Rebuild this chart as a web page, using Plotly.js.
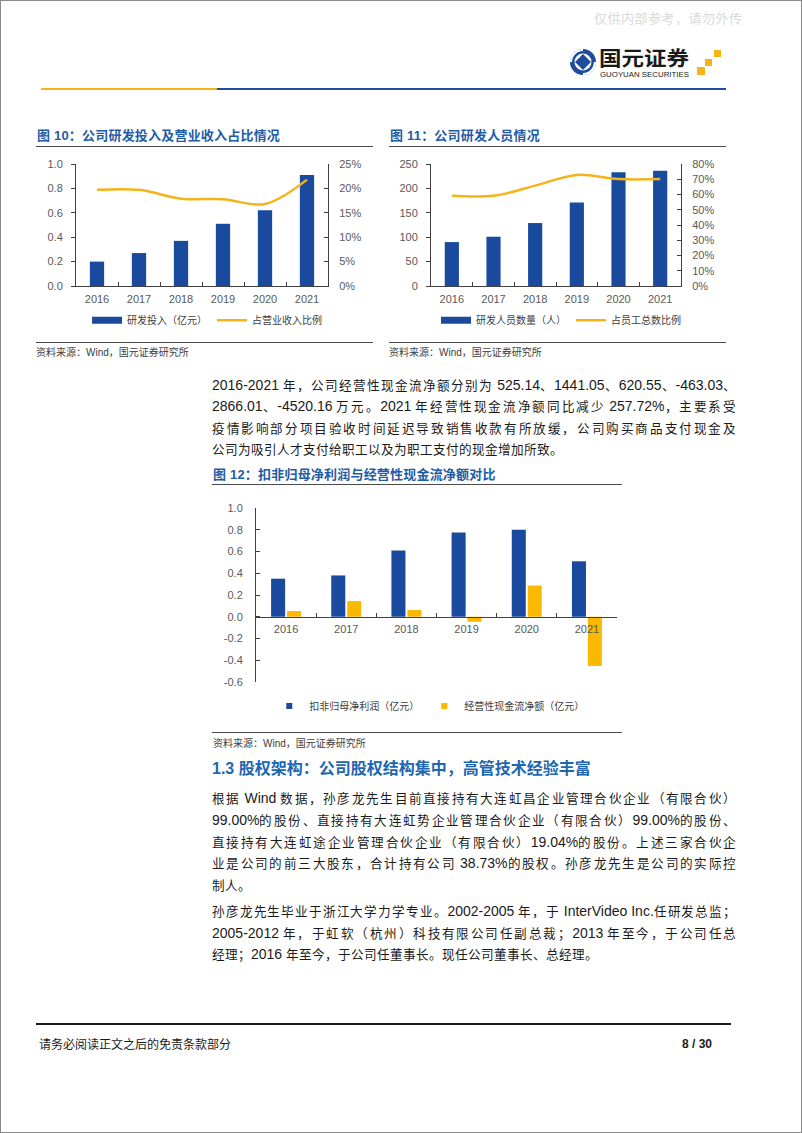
<!DOCTYPE html>
<html>
<head>
<meta charset="utf-8">
<script src="https://cdn.plot.ly/plotly-3.0.1.min.js"></script>
<style>
@font-face { font-family: 'CJKs'; src: local('Noto Sans CJK SC'), local('Noto Sans CJK SC Regular'), local('NotoSansCJKsc-Regular'); size-adjust: 90%; unicode-range: U+2E80-FFFF; }
html, body { margin:0; padding:0; background:#fff; }
#page { position:relative; width:802px; height:1133px; box-sizing:border-box; border:1px solid #8a8a8a; overflow:hidden; background:#fff; }
.abs { position:absolute; white-space:nowrap; }
.body { font-family:'Liberation Sans', 'CJKs', 'Noto Sans CJK SC', sans-serif; font-size:14px; color:#1a1a1a; line-height:20px; left:211px; }
.j { display:inline-block; }
.ftitle { font-family:'Liberation Sans','Noto Sans CJK SC',sans-serif; font-weight:bold; font-size:13px; color:#1f5ba6; letter-spacing:0.2px; line-height:18px; }
.src { font-family:'Liberation Sans','Noto Sans CJK SC',sans-serif; font-size:10px; color:#404040; line-height:14px; }
.hline { position:absolute; height:1px; background:#4a4a4a; }
.chart { position:absolute; }
</style>
</head>
<body>
<div id="page">
  <!-- header -->
  <div class="abs" style="left:593px; top:9px; font-family:'Noto Sans CJK SC'; font-size:13px; color:#dadada; letter-spacing:0.5px; line-height:16px;">仅供内部参考，请勿外传</div>
  <svg class="abs" style="left:560px; top:40px;" width="170" height="45" viewBox="0 0 170 45">
    <circle cx="22" cy="21" r="13" fill="#1d4d9c"/>
    <circle cx="22" cy="21" r="8.5" fill="#fff"/>
    <path d="M22 13 L30 21 L22 29 L14 21 Z" fill="#1d4d9c"/>
    <path d="M10 21 A12 12 0 0 1 22 9" stroke="#fff" stroke-width="2.2" fill="none"/>
    <path d="M34 21 A12 12 0 0 1 22 33" stroke="#fff" stroke-width="2.2" fill="none"/>
    <text x="38" y="25" font-family="Noto Sans CJK SC" font-weight="bold" font-size="20" fill="#1a1a1a" textLength="90" lengthAdjust="spacingAndGlyphs">国元证券</text>
    <text x="39" y="36" font-family="Liberation Sans" font-size="7" fill="#1a1a1a" textLength="89" lengthAdjust="spacingAndGlyphs">GUOYUAN SECURITIES</text>
    <rect x="136" y="26" width="8" height="8" fill="#f5b31a"/>
    <rect x="144" y="18" width="7" height="7" fill="#f5b31a"/>
    <rect x="153" y="9" width="7" height="7" fill="#f5b31a"/>
  </svg>
  <div class="abs" style="left:40px; top:87px; width:176px; height:2px; background:#f5b31a;"></div>
  <div class="abs" style="left:216px; top:87px; width:509px; height:2px; background:#1d4d9c;"></div>

  <!-- figure 10 -->
  <div class="abs ftitle" style="left:36px; top:126px;">图 10：公司研发投入及营业收入占比情况</div>
  <div class="hline" style="left:35px; top:145px; width:337px;"></div>
  <div id="c1" class="chart" style="left:30px; top:150px; width:355px; height:185px;"></div>
  <div class="hline" style="left:35px; top:341px; width:337px;"></div>
  <div class="abs src" style="left:35px; top:345px;">资料来源：Wind，国元证券研究所</div>

  <!-- figure 11 -->
  <div class="abs ftitle" style="left:389px; top:126px;">图 11：公司研发人员情况</div>
  <div class="hline" style="left:388px; top:145px; width:337px;"></div>
  <div id="c2" class="chart" style="left:385px; top:150px; width:355px; height:185px;"></div>
  <div class="hline" style="left:388px; top:341px; width:337px;"></div>
  <div class="abs src" style="left:388px; top:345px;">资料来源：Wind，国元证券研究所</div>

  <!-- paragraph 1 -->
  <div class="abs body j" style="top:374px;">2016-2021 年，公司经营性现金流净额分别为 525.14、1441.05、620.55、-463.03、</div>
  <div class="abs body j" style="top:395px;">2866.01、-4520.16 万元。2021 年经营性现金流净额同比减少 257.72%，主要系受</div>
  <div class="abs body j" style="top:417px;">疫情影响部分项目验收时间延迟导致销售收款有所放缓，公司购买商品支付现金及</div>
  <div class="abs body" style="top:438px;">公司为吸引人才支付给职工以及为职工支付的现金增加所致。</div>

  <!-- figure 12 -->
  <div class="abs ftitle" style="left:212px; top:465px;">图 12：扣非归母净利润与经营性现金流净额对比</div>
  <div class="hline" style="left:211px; top:483px; width:410px;"></div>
  <div id="c3" class="chart" style="left:205px; top:495px; width:420px; height:220px;"></div>
  <div class="hline" style="left:211px; top:731px; width:410px;"></div>
  <div class="abs src" style="left:212px; top:736px;">资料来源：Wind，国元证券研究所</div>

  <!-- section heading -->
  <div class="abs" style="left:211px; top:757px; font-family:'Liberation Sans','Noto Sans CJK SC',sans-serif; font-weight:bold; font-size:16px; color:#2166b0; line-height:22px;">1.3 股权架构：公司股权结构集中，高管技术经验丰富</div>

  <!-- paragraph 2 -->
  <div class="abs body j" style="top:787px;">根据 Wind 数据，孙彦龙先生目前直接持有大连虹昌企业管理合伙企业（有限合伙）</div>
  <div class="abs body j" style="top:809px;">99.00%的股份、直接持有大连虹势企业管理合伙企业（有限合伙）99.00%的股份、</div>
  <div class="abs body j" style="top:831px;">直接持有大连虹途企业管理合伙企业（有限合伙）19.04%的股份。上述三家合伙企</div>
  <div class="abs body j" style="top:852px;">业是公司的前三大股东，合计持有公司 38.73%的股权。孙彦龙先生是公司的实际控</div>
  <div class="abs body" style="top:874px;">制人。</div>

  <!-- paragraph 3 -->
  <div class="abs body j" style="top:900px;">孙彦龙先生毕业于浙江大学力学专业。2002-2005 年，于 InterVideo Inc.任研发总监；</div>
  <div class="abs body j" style="top:922px;">2005-2012 年，于虹软（杭州）科技有限公司任副总裁；2013 年至今，于公司任总</div>
  <div class="abs body" style="top:943px;">经理；2016 年至今，于公司任董事长。现任公司董事长、总经理。</div>

  <!-- footer -->
  <div class="abs" style="left:35px; top:1022px; width:695px; height:2px; background:#1a1a1a;"></div>
  <div class="abs" style="left:38px; top:1035px; font-family:'Noto Sans CJK SC'; font-size:12px; color:#1a1a1a; line-height:16px;">请务必阅读正文之后的免责条款部分</div>
  <div class="abs" style="left:681px; top:1035px; font-family:'Liberation Sans Narrow','Liberation Sans'; font-weight:bold; font-size:12px; color:#1a1a1a; line-height:16px;">8 / 30</div>
</div>

<script>
// ---------- data ----------
const years = ['2016', '2017', '2018', '2019', '2020', '2021'];
// Figure 10
const rdInvestment = [0.20, 0.27, 0.37, 0.51, 0.62, 0.91];          // 亿元
const rdRevenueRatio = [0.197, 0.197, 0.179, 0.178, 0.168, 0.218];  // 占营业收入比例
// Figure 11
const rdStaff = [90, 101, 129, 171, 233, 236];                       // 人
const rdStaffRatio = [0.592, 0.592, 0.658, 0.728, 0.701, 0.701];    // 占员工总数比例
// Figure 12
const netProfitDeducted = [0.35, 0.38, 0.61, 0.775, 0.80, 0.51];     // 亿元
const operatingCashFlow = [0.0525, 0.1441, 0.0621, -0.0463, 0.2866, -0.4520]; // 亿元
const c3TickVals = [-0.6, -0.4, -0.2, 0.0, 0.2, 0.4, 0.6, 0.8, 1.0];

// names
const n1a = '研发投入（亿元）', n1b = '占营业收入比例';
const n2a = '研发人员数量（人）', n2b = '占员工总数比例';
const n3a = '扣非归母净利润（亿元）', n3b = '经营性现金流净额（亿元）';

// ---------- styles ----------
const BLUE = '#1a4a9e', GOLD = '#f5b31a', BAR_GOLD = '#fbb800';
const AXC = '#404040';
const tickFont = {family: 'Liberation Sans, Arial, sans-serif', size: 11, color: '#595959'};
const legFont = {family: 'Noto Sans CJK SC, sans-serif', size: 10, color: '#404040'};
const cfg = {staticPlot: true, displayModeBar: false};

function dualLayout(yRange, yDtick, yFmt, y2Range, y2Dtick) {
  return {
    width: 355, height: 185,
    margin: {l: 45, r: 58, t: 13, b: 50, autoexpand: false},
    paper_bgcolor: 'rgba(0,0,0,0)', plot_bgcolor: 'rgba(0,0,0,0)',
    font: tickFont,
    bargap: 0.66,
    showlegend: true,
    legend: {orientation: 'h', x: 0.52, xanchor: 'center', y: -0.28, yanchor: 'middle',
             font: legFont, itemwidth: 30, bgcolor: 'rgba(0,0,0,0)', traceorder: 'normal'},
    xaxis: {type: 'category', showline: true, linecolor: AXC, linewidth: 1, ticks: 'inside',
            tickson: 'boundaries', ticklen: 4, tickcolor: AXC, showgrid: false, zeroline: false,
            tickfont: tickFont, ticklabelstandoff: 3},
    yaxis: {range: yRange, dtick: yDtick, tickformat: yFmt, showline: true, linecolor: AXC,
            ticks: 'outside', ticklen: 4, tickcolor: AXC, showgrid: false, zeroline: false,
            tickfont: tickFont, ticklabelstandoff: 6},
    yaxis2: {overlaying: 'y', side: 'right', range: y2Range, dtick: y2Dtick, tickformat: '.0%',
             showline: true, linecolor: AXC, ticks: 'inside', ticklen: 4, tickcolor: AXC,
             showgrid: false, zeroline: false, tickfont: tickFont, ticklabelstandoff: 8}
  };
}

// ---------- Figure 10 ----------
Plotly.newPlot('c1', [
  {type: 'bar', x: years, y: rdInvestment, name: n1a, marker: {color: BLUE}, showlegend: false, yaxis: 'y'},
  {type: 'scatter', mode: 'lines', x: [null], y: [null], name: n1a, line: {color: BLUE, width: 7}, yaxis: 'y'},
  {type: 'scatter', mode: 'lines', x: years, y: rdRevenueRatio, name: n1b, yaxis: 'y2',
   line: {color: GOLD, width: 2.5, shape: 'spline', smoothing: 1}}
], dualLayout([0, 1], 0.2, '.1f', [0, 0.25], 0.05), cfg);

// ---------- Figure 11 ----------
Plotly.newPlot('c2', [
  {type: 'bar', x: years, y: rdStaff, name: n2a, marker: {color: BLUE}, showlegend: false, yaxis: 'y'},
  {type: 'scatter', mode: 'lines', x: [null], y: [null], name: n2a, line: {color: BLUE, width: 7}, yaxis: 'y'},
  {type: 'scatter', mode: 'lines', x: years, y: rdStaffRatio, name: n2b, yaxis: 'y2',
   line: {color: GOLD, width: 2.5, shape: 'spline', smoothing: 1}}
], (function () { const l = dualLayout([0, 250], 50, 'd', [0, 0.8], 0.1); l.margin.r = 60; return l; })(), cfg);

// ---------- Figure 12 ----------
Plotly.newPlot('c3', [
  {type: 'bar', x: years, y: netProfitDeducted, name: n3a, marker: {color: BLUE}, showlegend: false},
  {type: 'bar', x: years, y: operatingCashFlow, name: n3b, marker: {color: BAR_GOLD}, showlegend: false},
  {type: 'scatter', mode: 'markers', x: [null], y: [null], name: n3a, marker: {color: BLUE, symbol: 'square', size: 6}},
  {type: 'scatter', mode: 'markers', x: [null], y: [null], name: n3b, marker: {color: BAR_GOLD, symbol: 'square', size: 6}}
], {
  width: 420, height: 220,
  margin: {l: 50, r: 9, t: 12, b: 34, autoexpand: false},
  paper_bgcolor: 'rgba(0,0,0,0)', plot_bgcolor: 'rgba(0,0,0,0)',
  font: tickFont,
  barmode: 'group', bargap: 0.47, bargroupgap: 0.12,
  showlegend: true,
  legend: {orientation: 'h', x: 0.48, xanchor: 'center', y: -0.138, yanchor: 'middle',
           font: legFont, itemwidth: 30, bgcolor: 'rgba(0,0,0,0)', traceorder: 'normal'},
  xaxis: {type: 'category', anchor: 'free', position: 0.375, showline: true, linecolor: AXC,
          ticks: 'inside', tickson: 'boundaries', ticklen: 4, tickcolor: AXC, showgrid: false,
          zeroline: false, tickfont: tickFont, ticklabelstandoff: 2},
  yaxis: {range: [-0.6, 1.0], tickvals: c3TickVals, ticktext: c3TickVals.map(v => v.toFixed(1)),
          showline: true, linecolor: AXC, ticks: 'inside', ticklen: 4, tickcolor: AXC,
          showgrid: false, zeroline: false, tickfont: tickFont, ticklabelstandoff: 10}
}, cfg);

// ---------- justify body lines (extra space only between CJK characters) ----------
const CJK = /[\u2E80-\uFFFF]/;
function justifyLines() {
  const target = 524;
  document.querySelectorAll('.j').forEach(el => {
    if (!el.dataset.raw) el.dataset.raw = el.textContent;
    const raw = el.dataset.raw;
    el.innerHTML = raw.split(/([\u2E80-\uFFFF]+)/).map(p => CJK.test(p) ? '<span class="cj">' + p + '</span>' : p).join('');
    const w = el.getBoundingClientRect().width;
    const chars = Array.from(raw);
    let n = chars.filter(c => CJK.test(c)).length;
    if (CJK.test(chars[chars.length - 1])) n -= 1;
    if (n > 0 && w < target) {
      const ls = (target - w) / n;
      el.querySelectorAll('.cj').forEach(s => s.style.letterSpacing = ls + 'px');
    }
  });
}
justifyLines();
if (document.fonts && document.fonts.ready) document.fonts.ready.then(justifyLines);
</script>
</body>
</html>
